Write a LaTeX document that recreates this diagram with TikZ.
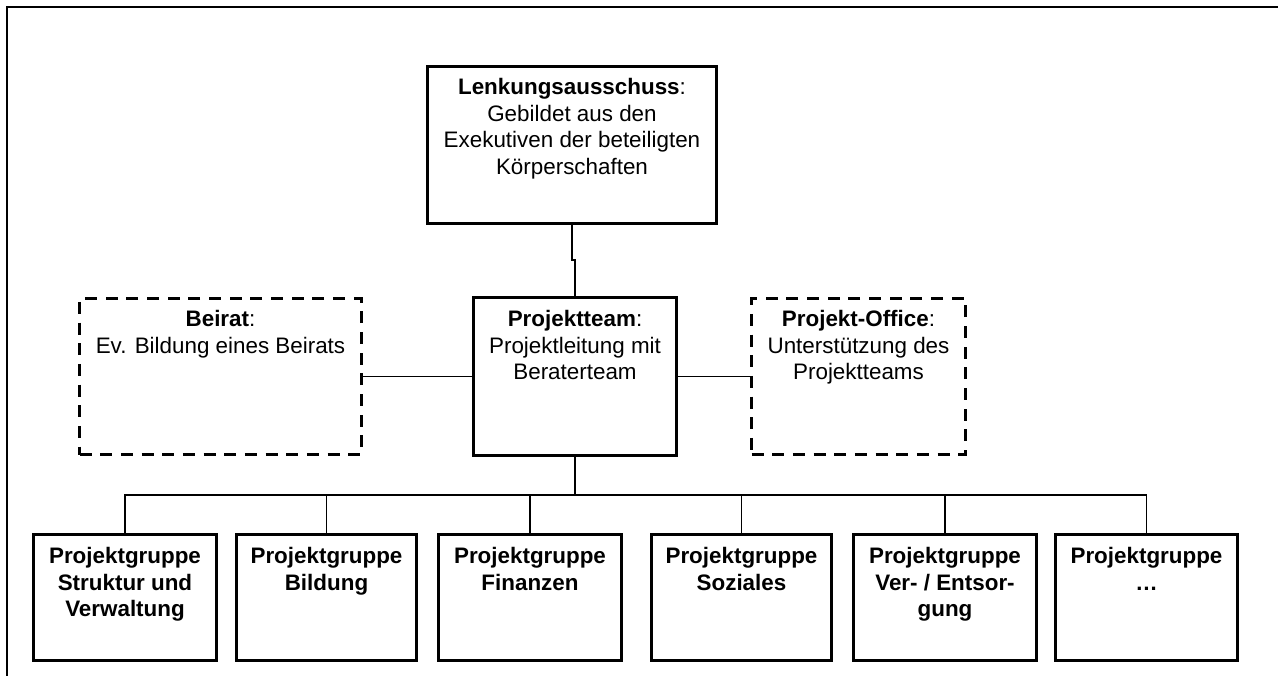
\documentclass[tikz,border=0pt]{standalone}
\usepackage{fontspec}
\setmainfont{Liberation Sans}
\usetikzlibrary{calc}
\def\PX{0.75pt}
\tikzset{
  solidbox/.style={draw, line width=2.8pt, inner sep=0pt, fill=none},
  dashbox/.style={draw, line width=2.6pt, dash pattern=on 9pt off 6.5pt, inner sep=0pt},
  txt/.style={anchor=north, inner sep=0pt, align=center, font=\fontsize{16.8pt}{20pt}\selectfont},
  btxt/.style={txt, font=\fontsize{16.8pt}{20pt}\selectfont\bfseries},
  conn/.style={line width=1.1pt},
}
\begin{document}
\begin{tikzpicture}[x=0.75pt, y=-0.75pt]
\useasboundingbox (0,0) rectangle (1278,675);
% outer frame (top and left visible)
\coordinate (fbl) at (7,676);
\coordinate (ftl) at (7,7);
\coordinate (ftr) at (1279,7);
\draw[line width=1.8pt] (fbl) -- (ftl) -- (ftr);

% top box
\node[solidbox, minimum width=289*\PX, minimum height=157*\PX] (L) at (572,145) {};
\node[txt] (Lt) at (572,78) {\textbf{Lenkungsausschuss}:\\Gebildet aus den\\Exekutiven der beteiligten\\Körperschaften};

% middle row
\node[solidbox, minimum width=203*\PX, minimum height=158*\PX] (PT) at (575,376.5) {};
\node[txt] (PTt) at (575,310) {\textbf{Projektteam}:\\Projektleitung mit\\Beraterteam};

\node[dashbox, minimum width=282*\PX, minimum height=156*\PX] (B) at (220.5,376.5) {};
\node[txt] (Bt) at (220.5,310) {\textbf{Beirat}:\\Ev. Bildung eines Beirats};

\node[dashbox, minimum width=214*\PX, minimum height=156*\PX] (PO) at (858.5,376.5) {};
\node[txt] (POt) at (858.5,310) {\textbf{Projekt-Office}:\\Unterstützung des\\Projektteams};

% group boxes
\node[solidbox, minimum width=183*\PX, minimum height=126*\PX] (G1) at (125,597.5) {};
\node[solidbox, minimum width=180*\PX, minimum height=126*\PX] (G2) at (326.5,597.5) {};
\node[solidbox, minimum width=183*\PX, minimum height=126*\PX] (G3) at (530,597.5) {};
\node[solidbox, minimum width=180*\PX, minimum height=126*\PX] (G4) at (741.5,597.5) {};
\node[solidbox, minimum width=183*\PX, minimum height=126*\PX] (G5) at (945,597.5) {};
\node[solidbox, minimum width=182*\PX, minimum height=126*\PX] (G6) at (1146.5,597.5) {};

\node[btxt] (G1t) at (125,547) {Projektgruppe\\Struktur und\\Verwaltung};
\node[btxt] (G2t) at (326.5,547) {Projektgruppe\\Bildung};
\node[btxt] (G3t) at (530,547) {Projektgruppe\\Finanzen};
\node[btxt] (G4t) at (741.5,547) {Projektgruppe\\Soziales};
\node[btxt] (G5t) at (945,547) {Projektgruppe\\Ver- / Entsor-\\gung};
\node[btxt] (G6t) at (1146.5,547) {Projektgruppe\\…};

% connectors
\coordinate (jog) at (572,260);
\draw[conn] (L.south) -- (jog) -| (PT.north);
\draw[conn] (B.east) -- (PT.west);
\draw[conn] (PT.east) -- (PO.west);
\coordinate (bus) at (575,495);
\draw[conn] (PT.south) -- (bus);
\draw[conn] (G1.north) |- (bus) -| (G6.north);
\draw[conn] (G2.north) -- (G2.north |- bus);
\draw[conn] (G3.north) -- (G3.north |- bus);
\draw[conn] (G4.north) -- (G4.north |- bus);
\draw[conn] (G5.north) -- (G5.north |- bus);
\end{tikzpicture}
\end{document}
